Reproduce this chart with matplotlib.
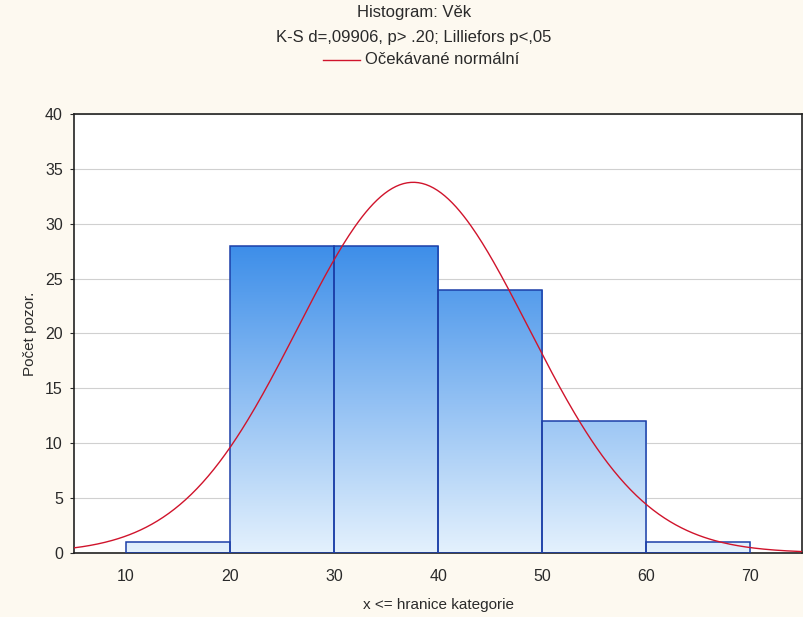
import numpy as np
import matplotlib.pyplot as plt
from matplotlib.patches import Rectangle
from matplotlib.colors import LinearSegmentedColormap

plt.rcParams['font.family'] = ['Liberation Sans', 'DejaVu Sans']

# histogram data
bin_left = [10, 20, 30, 40, 50, 60]
bin_width = 10
counts = [1, 28, 28, 24, 12, 1]
mean_age = 37.6
sd_age = 11.1
n_total = sum(counts)

fig = plt.figure(figsize=(8.04, 6.17), dpi=100)
fig.patch.set_facecolor('#fdf9f0')
ax = fig.add_axes([0.092, 0.104, 0.906, 0.711])
ax.set_facecolor('white')

# gradient for bars, dark at top, light at bottom
grad = np.linspace(0, 1, 256).reshape(-1, 1)
cmap = LinearSegmentedColormap.from_list('bar', ['#e4f1fd', '#3d8ee9'])
top_val = max(counts)
for x0, c in zip(bin_left, counts):
    im = ax.imshow(grad, extent=[x0, x0 + bin_width, 0, top_val], origin='lower',
                   cmap=cmap, aspect='auto', zorder=2)
    rect = Rectangle((x0, 0), bin_width, c, facecolor='none',
                     edgecolor='#1c3fa8', linewidth=1.1, zorder=3)
    ax.add_patch(rect)
    im.set_clip_path(rect)

xs = np.linspace(4, 76, 400)
ys = n_total * bin_width / (sd_age * np.sqrt(2 * np.pi)) * np.exp(-0.5 * ((xs - mean_age) / sd_age) ** 2)
ax.plot(xs, ys, color='#d0142c', linewidth=1.0, zorder=4)

ax.set_xlim(5, 75)
ax.set_ylim(0, 40)
ax.set_xticks([10, 20, 30, 40, 50, 60, 70])
ax.set_yticks(range(0, 41, 5))
ax.yaxis.grid(True, color='#d0d0d0', linewidth=0.8, zorder=0)
ax.set_axisbelow(True)
ax.tick_params(axis='both', labelsize=11.5, colors='#2a2a2a', length=3)
ax.tick_params(axis='y', pad=5)
ax.tick_params(axis='x', length=0, pad=12)
for s in ax.spines.values():
    s.set_color('#222222')
    s.set_linewidth(1.2)

ax.set_xlabel('x <= hranice kategorie', fontsize=11, labelpad=10, color='#2a2a2a')
ax.set_ylabel('Počet pozor.', fontsize=11, labelpad=6, color='#2a2a2a')

cx = 0.515
fig.text(cx, 0.980, 'Histogram: Věk', ha='center', va='center', fontsize=12, color='#2a2a2a')
fig.text(cx, 0.940, 'K-S d=,09906, p> .20; Lilliefors p<,05', ha='center', va='center',
         fontsize=12, color='#2a2a2a')
fig.lines.append(plt.Line2D([0.402, 0.448], [0.903, 0.903], transform=fig.transFigure,
                            color='#d0142c', linewidth=1.0))
fig.text(0.454, 0.903, 'Očekávané normální', ha='left', va='center', fontsize=12, color='#2a2a2a')

fig.savefig('out.png', dpi=100, facecolor=fig.get_facecolor())
